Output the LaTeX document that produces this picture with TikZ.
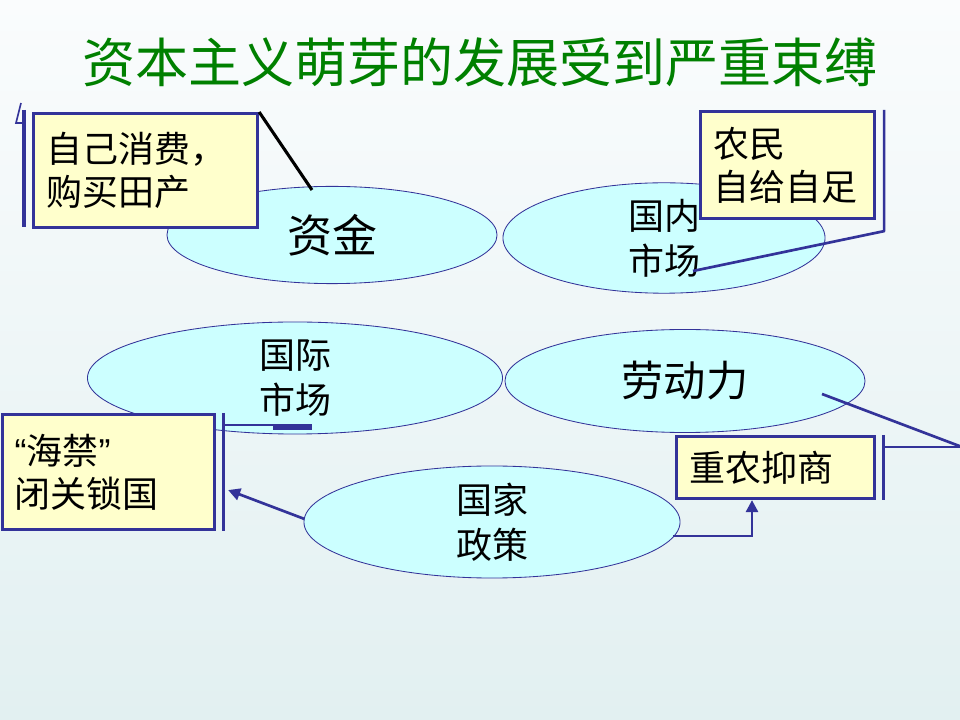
\documentclass[tikz,border=0pt]{standalone}
\usepackage{fontspec}
\newfontfamily\cjk{Noto Sans CJK SC}
\newfontfamily\latq{Liberation Sans}
\usetikzlibrary{arrows.meta,positioning,calc,shapes.geometric}
\definecolor{mNavy}{RGB}{51,51,153}
\definecolor{mGreen}{RGB}{0,128,0}
\definecolor{ovalfill}{RGB}{204,255,255}
\definecolor{notefill}{RGB}{255,255,204}
\definecolor{bgtop}{RGB}{250,252,253}
\definecolor{bgbot}{RGB}{226,240,241}
\tikzset{
  ovalnd/.style={ellipse, draw=mNavy, line width=0.6pt, fill=ovalfill, inner sep=0pt,
    align=center, font=\cjk\fontsize{25.6}{32}\selectfont},
  notebox/.style={draw=mNavy, line width=2.2pt, fill=notefill, anchor=north west,
    align=left, inner xsep=0.325cm, inner ysep=0pt, font=\cjk\fontsize{25.6}{30.6}\selectfont},
  barln/.style={mNavy, line width=2.2pt},
  linkln/.style={mNavy, line width=1.9pt, line join=round},
  arrowln/.style={-{Triangle[length=3mm,width=3mm]}, mNavy, line width=1.9pt},
}

\begin{document}
\begin{tikzpicture}[x=0.025cm,y=-0.025cm]
    % slide background
    \shade[top color=bgtop, bottom color=bgbot] (0,0) rectangle (960,720);
    \useasboundingbox (0,0) rectangle (960,720);
    \node[font=\cjk\fontsize{37.7}{42}\selectfont, text=mGreen] (title) at (480,62)
      {资本主义萌芽的发展受到严重束缚};
    % the five factors
    \node[ovalnd, minimum width=8.25cm, minimum height=2.43cm,
      font=\cjk\fontsize{32}{36}\selectfont] (zijin) at (332,235) {资金};
    \node[ovalnd, minimum width=8.05cm, minimum height=2.6cm] (guonei) at (664,238) {国内\\市场};
    \node[ovalnd, minimum width=10.375cm, minimum height=2.8cm] (guoji) at (295,378) {国际\\市场};
    \node[ovalnd, minimum width=9cm, minimum height=2.575cm,
      font=\cjk\fontsize{30}{34}\selectfont] (laodong) at (685,381) {劳动力};
    \node[ovalnd, minimum width=9.4cm, minimum height=2.8cm] (zhengce) at (492,522) {国家\\政策};
    % callout tips
    \coordinate (zjtip) at (312,190);
    \coordinate (gntip) at (693,271);
    \coordinate (gjtip) at (312,425);
    \coordinate (ldtip) at (822,394);
    \coordinate (rim) at (962,447);
    % note boxes
    \node[notebox, text width=4.95cm, minimum height=2.85cm] (xiaofei) at (32,112)
      {自己消费，\\购买田产};
    \node[notebox, text width=3.7cm, minimum height=2.675cm] (nongmin) at (699,110)
      {农民\\自给自足};
    \node[notebox, inner xsep=0.3cm, text width=4.7cm, minimum height=2.875cm] (haijin) at (1,413)
      {{\latq “}海禁{\latq ”}\\闭关锁国};
    \node[notebox, text width=4.3cm, minimum height=1.55cm] (zhongnong) at (675,435)
      {重农抑商};
    % callout on 资金
    \draw[black, line width=2.2pt] (xiaofei.north east) -- (zjtip);
    \draw[barln] ($(xiaofei.north west)+(-8,-2)$) -- ($(xiaofei.south west)+(-8,-2)$);
    \draw[mNavy, line width=1.2pt] ($(xiaofei.north west)+(-11,-9)$) -- ($(xiaofei.north west)+(-16,11)$)
      -- ($(xiaofei.north west)+(-8,11)$);
    % callout on 国内市场
    \draw[linkln] ($(nongmin.north east)+(8,0)$) -- ($(nongmin.south east)+(8,11)$) -- (gntip);
    % callout on 国际市场
    \draw[barln] ($(haijin.north east)+(7,0)$) -- ($(haijin.south east)+(7,0)$);
    \draw[linkln] ($(haijin.north east)+(7,12)$) -- (gjtip);
    \draw[mNavy, line width=4pt] ($(gjtip)+(-39,2)$) -- ($(gjtip)+(0,2)$);
    % callout on 劳动力
    \draw[barln] ($(zhongnong.north east)+(7,0)$) -- ($(zhongnong.south east)+(7,0)$);
    \draw[linkln] ($(zhongnong.north east)+(7,12)$) -- (rim);
    \draw[linkln] (ldtip) -- (rim);
    % arrows out of 国家政策
    \draw[arrowln] ($(zhengce.west)+(1,-3)$) -- ($(haijin.east)+(12,18)$);
    \draw[arrowln] ($(zhengce.east)+(-7,14)$) -| ($(zhongnong.south west)+(77,0)$);
\end{tikzpicture}
\end{document}
